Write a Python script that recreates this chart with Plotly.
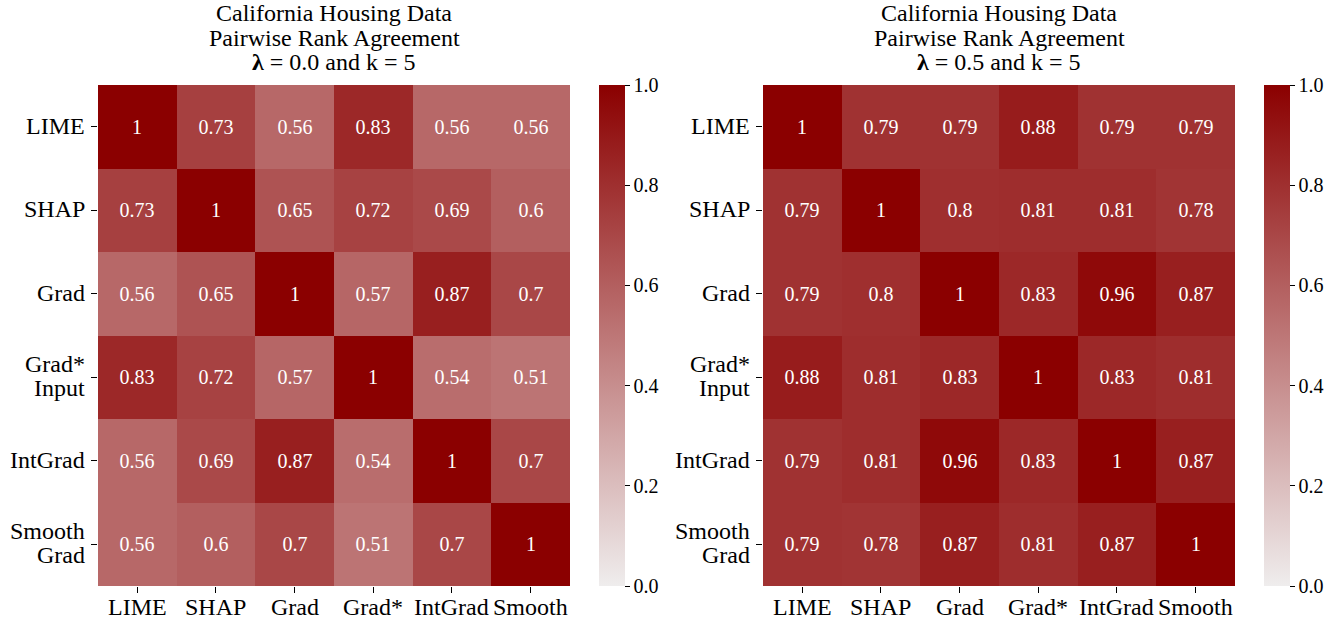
import plotly.graph_objects as go

methods = ["LIME", "SHAP", "Grad", "Grad*Input", "IntGrad", "SmoothGrad"]
y_label_lines = [["LIME"], ["SHAP"], ["Grad"], ["Grad*", "Input"], ["IntGrad"], ["Smooth", "Grad"]]
x_labels = ["LIME", "SHAP", "Grad", "Grad*", "IntGrad", "Smooth"]

agree_lambda00 = [
    [1, 0.73, 0.56, 0.83, 0.56, 0.56],
    [0.73, 1, 0.65, 0.72, 0.69, 0.6],
    [0.56, 0.65, 1, 0.57, 0.87, 0.7],
    [0.83, 0.72, 0.57, 1, 0.54, 0.51],
    [0.56, 0.69, 0.87, 0.54, 1, 0.7],
    [0.56, 0.6, 0.7, 0.51, 0.7, 1],
]
agree_lambda05 = [
    [1, 0.79, 0.79, 0.88, 0.79, 0.79],
    [0.79, 1, 0.8, 0.81, 0.81, 0.78],
    [0.79, 0.8, 1, 0.83, 0.96, 0.87],
    [0.88, 0.81, 0.83, 1, 0.83, 0.81],
    [0.79, 0.81, 0.96, 0.83, 1, 0.87],
    [0.79, 0.78, 0.87, 0.81, 0.87, 1],
]
title_lines = [
    ["California Housing Data", "Pairwise Rank Agreement", "<b>λ</b> = 0.0 and k = 5"],
    ["California Housing Data", "Pairwise Rank Agreement", "<b>λ</b> = 0.5 and k = 5"],
]

W, H = 1341, 623
FONT = "Liberation Serif"
colorscale = [[0, "#efeded"], [1, "#8b0000"]]

# pixel layout
panels = [
    dict(x0=98, x1=570, cb=599),
    dict(x0=763, x1=1235, cb=1264),
]
y_top, y_bot = 85, 586
title_centers = [13, 38, 62]
xlabel_center = 607

fig = go.Figure()
for i, (data, lines, p) in enumerate(zip([agree_lambda00, agree_lambda05], title_lines, panels)):
    xa = "x" if i == 0 else "x2"
    ya = "y" if i == 0 else "y2"
    text = [[("%g" % v) for v in row] for row in data]
    fig.add_trace(go.Heatmap(
        z=data, x=x_labels, y=methods, text=text, texttemplate="%{text}",
        textfont=dict(family=FONT, size=20, color="white"),
        colorscale=colorscale, zmin=0, zmax=1, xaxis=xa, yaxis=ya,
        xgap=0, ygap=0, hoverinfo="skip",
        colorbar=dict(
            x=p["cb"] / W, xanchor="left", xref="paper", xpad=0, ypad=0,
            y=1 - (y_top + y_bot) / 2 / H, yanchor="middle",
            len=(y_bot - y_top) / H, lenmode="fraction",
            thickness=26, thicknessmode="pixels", outlinewidth=0,
            tickvals=[0, 0.2, 0.4, 0.6, 0.8, 1.0],
            ticktext=["0.0", "0.2", "0.4", "0.6", "0.8", "1.0"],
            ticks="outside", ticklen=5, tickcolor="black", tickwidth=1,
            tickfont=dict(family=FONT, size=20, color="black"),
        ),
    ))
    xd = [p["x0"] / W, p["x1"] / W]
    yd = [1 - y_bot / H, 1 - y_top / H]
    axis_common = dict(ticks="outside", ticklen=6, tickcolor="black", tickwidth=1,
                       showticklabels=False,
                       showgrid=False, zeroline=False, showline=False, automargin=False)
    fig.update_layout(**{
        ("xaxis" if i == 0 else "xaxis2"): dict(domain=xd, anchor=ya, **axis_common),
        ("yaxis" if i == 0 else "yaxis2"): dict(domain=yd, anchor=xa, autorange="reversed",
                                                 **axis_common),
    })
    # x tick labels
    for cat in x_labels:
        fig.add_annotation(
            x=cat, xref=xa, y=1 - xlabel_center / H, yref="paper",
            xanchor="center", yanchor="middle", showarrow=False, text=cat,
            font=dict(family=FONT, size=24, color="black"),
        )
    # y tick labels (multi-line with tight line spacing)
    for cat, parts in zip(methods, y_label_lines):
        shifts = [0] if len(parts) == 1 else [12, -12]
        for part, sh in zip(parts, shifts):
            fig.add_annotation(
                x=(p["x0"] - 11) / W, xref="paper", y=cat, yref=ya,
                xanchor="right", yanchor="middle", yshift=sh + 1, showarrow=False,
                text=part, align="right", font=dict(family=FONT, size=24, color="black"),
            )
    for line, yc in zip(lines, title_centers):
        fig.add_annotation(
            x=(p["x0"] + p["x1"]) / 2 / W, y=1 - yc / H, xref="paper", yref="paper",
            xanchor="center", yanchor="middle", showarrow=False, text=line, align="center",
            font=dict(family=FONT, size=24, color="black"),
        )

fig.update_layout(
    width=W, height=H, margin=dict(l=0, r=0, t=0, b=0, autoexpand=False),
    paper_bgcolor="white", plot_bgcolor="white",
    font=dict(family=FONT, color="black"),
)
fig.write_html("out.html", config={"displayModeBar": False})

with open("out.html", "r", encoding="utf-8") as f:
    html = f.read()
html = html.replace("<body>", '<body style="margin:0;padding:0;overflow:hidden">', 1)
with open("out.html", "w", encoding="utf-8") as f:
    f.write(html)
